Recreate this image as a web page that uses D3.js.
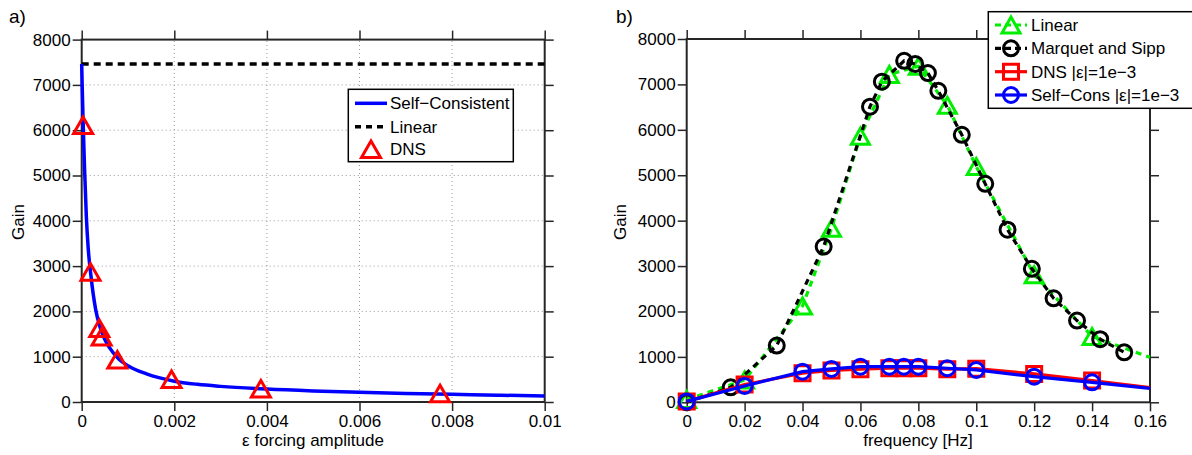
<!DOCTYPE html>
<html><head><meta charset="utf-8">
<script src="https://cdn.jsdelivr.net/npm/d3@7"></script>
<style>
body{margin:0;background:#fff;}
svg{display:block;font-family:"Liberation Sans",Arial,Helvetica,sans-serif;}
</style></head>
<body><svg id="c" width="1192" height="455"></svg>
<script>
// ---------- Panel a data ----------
const aXTicks = [0, 0.002, 0.004, 0.006, 0.008, 0.01];
const aXTickLabels = ["0", "0.002", "0.004", "0.006", "0.008", "0.01"];
const gainTicks = [0, 1000, 2000, 3000, 4000, 5000, 6000, 7000, 8000];
const gainTickLabels = ["0", "1000", "2000", "3000", "4000", "5000", "6000", "7000", "8000"];
const selfConsEps = [0, 0.00001, 0.00003, 0.00006, 0.0001, 0.00014, 0.0002, 0.0003, 0.0004, 0.0005, 0.0006, 0.0008, 0.001, 0.0014, 0.002, 0.0025, 0.003, 0.004, 0.005, 0.006, 0.007, 0.008, 0.009, 0.01];
const selfConsGain = [7460, 7000, 6200, 5200, 4100, 3400, 2780, 2050, 1640, 1380, 1200, 950, 800, 620, 460, 390, 345, 285, 245, 215, 190, 170, 150, 135];
const linearGainA = 7460;
const dnsEps = [0.00003, 0.00019, 0.00038, 0.00043, 0.00077, 0.00194, 0.00387, 0.00774];
const dnsGain = [6110, 2870, 1630, 1440, 930, 500, 290, 185];
const legendA = ["Self\u2212Consistent", "Linear", "DNS"];

// ---------- Panel b data ----------
const bXTicks = [0, 0.02, 0.04, 0.06, 0.08, 0.1, 0.12, 0.14, 0.16];
const bXTickLabels = ["0", "0.02", "0.04", "0.06", "0.08", "0.1", "0.12", "0.14", "0.16"];
const linFreq = [0, 0.02, 0.04, 0.05, 0.06, 0.07, 0.08, 0.09, 0.1, 0.12, 0.14, 0.16];
const linGain = [60, 490, 2120, 3830, 5860, 7220, 7400, 6540, 5190, 2810, 1450, 990];
const msFreq = [0, 0.0152, 0.0311, 0.0473, 0.0633, 0.0674, 0.0751, 0.0789, 0.0833, 0.0869, 0.095, 0.1031, 0.1108, 0.1192, 0.1267, 0.1348, 0.1428, 0.1511];
const msGain = [0, 330, 1250, 3430, 6510, 7060, 7520, 7450, 7250, 6860, 5890, 4810, 3800, 2940, 2290, 1800, 1390, 1100];
const dnsFreq = [0, 0.02, 0.04, 0.05, 0.06, 0.07, 0.075, 0.08, 0.09, 0.1, 0.12, 0.14, 0.16];
const dnsGainB = [20, 390, 640, 700, 730, 750, 750, 750, 730, 740, 625, 478, 322];
const scFreq = [0, 0.02, 0.04, 0.05, 0.06, 0.07, 0.075, 0.08, 0.09, 0.1, 0.12, 0.14, 0.16];
const scGainB = [20, 360, 675, 735, 785, 785, 785, 785, 750, 712, 565, 440, 308];
const legendB = ["Linear", "Marquet and Sipp", "DNS |\u03b5|=1e\u22123", "Self\u2212Cons |\u03b5|=1e\u22123"];

const svg = d3.select("#c");
const AX = "#262626";
const FS = 17;

function triPath(w, h){ return `M0,${-h/2}L${w/2},${h/2}L${-w/2},${h/2}Z`; }

function frame(g, x, y, xt, xtl, yt, ytl, grid){
  const [x0, x1] = x.range(), [y0, y1] = y.range();
  if (grid){
    g.append("g").selectAll("line").data(xt.slice(1, -1)).join("line")
      .attr("x1", d => x(d)).attr("x2", d => x(d)).attr("y1", y0).attr("y2", y1)
      .attr("stroke", "#9a9a9a").attr("stroke-width", 1).attr("stroke-dasharray", "1,3");
    g.append("g").selectAll("line").data(yt.slice(1, -1)).join("line")
      .attr("y1", d => y(d)).attr("y2", d => y(d)).attr("x1", x0).attr("x2", x1)
      .attr("stroke", "#9a9a9a").attr("stroke-width", 1).attr("stroke-dasharray", "1,3");
  }
  const axB = d3.axisBottom(x).tickValues(xt).tickFormat((d,i) => xtl[i]).tickSize(9).tickPadding(4);
  const axT = d3.axisTop(x).tickValues(xt).tickFormat("").tickSize(9);
  const axL = d3.axisLeft(y).tickValues(yt).tickFormat((d,i) => ytl[i]).tickSize(9).tickPadding(2);
  const axR = d3.axisRight(y).tickValues(yt).tickFormat("").tickSize(9);
  const style = s => { s.select(".domain").remove(); s.selectAll("line").attr("stroke", AX).attr("stroke-width", 1.5);
    s.selectAll("text").attr("font-size", FS).attr("fill", "#000").attr("font-family", "Liberation Sans, Arial, sans-serif"); };
  g.append("g").attr("transform", `translate(0,${y0})`).call(axB).call(style);
  g.append("g").attr("transform", `translate(0,${y1})`).call(axT).call(style);
  g.append("g").attr("transform", `translate(${x0},0)`).call(axL).call(style);
  g.append("g").attr("transform", `translate(${x1},0)`).call(axR).call(style);
  g.append("rect").attr("x", x0).attr("y", y1).attr("width", x1 - x0).attr("height", y0 - y1)
    .attr("fill", "none").attr("stroke", AX).attr("stroke-width", 2);
}

// ================= Panel a =================
{
  const x = d3.scaleLinear().domain([0, 0.01]).range([81.7, 544.7]);
  const y = d3.scaleLinear().domain([0, 8000]).range([402, 39.6]);
  const g = svg.append("g");
  frame(g, x, y, aXTicks, aXTickLabels, gainTicks, gainTickLabels, true);
  g.append("defs").append("clipPath").attr("id", "clipA").append("rect")
    .attr("x", 81.7).attr("y", 39.6).attr("width", 463).attr("height", 362.4);
  const pg = g.append("g").attr("clip-path", "url(#clipA)");
  // Linear
  pg.append("line").attr("x1", x(0)).attr("x2", x(0.01)).attr("y1", y(linearGainA)).attr("y2", y(linearGainA))
    .attr("stroke", "#000").attr("stroke-width", 3.5).attr("stroke-dasharray", "7,5");
  // Self-consistent
  const line = d3.line().x(d => x(d[0])).y(d => y(d[1])).curve(d3.curveMonotoneX);
  g.append("path").datum(d3.zip(selfConsEps, selfConsGain)).attr("d", line)
    .attr("fill", "none").attr("stroke", "#0000ff").attr("stroke-width", 3.5);
  // DNS triangles
  g.append("g").selectAll("path").data(d3.zip(dnsEps, dnsGain)).join("path")
    .attr("transform", d => `translate(${x(d[0])},${y(d[1])})`).attr("d", triPath(19, 16.5))
    .attr("fill", "none").attr("stroke", "#ff0000").attr("stroke-width", 3).attr("stroke-linejoin", "miter");
  // Legend
  const lg = g.append("g");
  lg.append("rect").attr("x", 348.3).attr("y", 89.3).attr("width", 165).attr("height", 72.4)
    .attr("fill", "#fff").attr("stroke", "#000").attr("stroke-width", 1.5);
  const rows = [103.3, 126.7, 149.3];
  lg.append("line").attr("x1", 355).attr("x2", 387).attr("y1", rows[0]).attr("y2", rows[0])
    .attr("stroke", "#0000ff").attr("stroke-width", 3.5);
  lg.append("line").attr("x1", 355).attr("x2", 387).attr("y1", rows[1]).attr("y2", rows[1])
    .attr("stroke", "#000").attr("stroke-width", 3.5).attr("stroke-dasharray", "6,5");
  lg.append("path").attr("transform", `translate(371,${rows[2]})`).attr("d", triPath(19, 16.5))
    .attr("fill", "none").attr("stroke", "#ff0000").attr("stroke-width", 3);
  lg.selectAll("text").data(legendA).join("text").attr("x", 390).attr("y", (d,i) => rows[i] + 6)
    .attr("font-size", FS).text(d => d);
  // Labels
  g.append("text").attr("x", 313).attr("y", 446).attr("text-anchor", "middle").attr("font-size", FS).text("\u03b5 forcing amplitude");
  g.append("text").attr("transform", "translate(24,222) rotate(-90)").attr("text-anchor", "middle").attr("font-size", FS).text("Gain");
  g.append("text").attr("x", 9).attr("y", 23).attr("font-size", 19).text("a)");
}

// ================= Panel b =================
{
  const x = d3.scaleLinear().domain([0, 0.16]).range([686.7, 1150]);
  const y = d3.scaleLinear().domain([0, 8000]).range([402.3, 39]);
  const g = svg.append("g");
  frame(g, x, y, bXTicks, bXTickLabels, gainTicks, gainTickLabels, false);
  const line = d3.line().x(d => x(d[0])).y(d => y(d[1]));
  function series(xs, ys, color, dash, marker, markerFilter){
    const data = d3.zip(xs, ys);
    g.append("path").datum(data).attr("d", line).attr("fill", "none").attr("stroke", color)
      .attr("stroke-width", 3.2).attr("stroke-dasharray", dash);
    const md = data.filter(markerFilter);
    const sel = g.append("g").selectAll("path").data(md).join("path")
      .attr("transform", d => `translate(${x(d[0])},${y(d[1])})`)
      .attr("fill", "none").attr("stroke", color).attr("stroke-width", 3);
    if (marker === "tri") sel.attr("d", triPath(18, 16));
    else if (marker === "sq") sel.attr("d", "M-7.5,-7.5H7.5V7.5H-7.5Z");
    else sel.attr("d", d3.arc()({innerRadius:0, outerRadius:7.5, startAngle:0, endAngle:2*Math.PI}));
  }
  series(linFreq, linGain, "#00ee00", "6,5", "tri", d => d[0] < 0.155);
  series(msFreq, msGain, "#000000", "6,5", "circ", d => true);
  series(dnsFreq, dnsGainB, "#ff0000", null, "sq", d => d[0] < 0.155);
  series(scFreq, scGainB, "#0000ff", null, "circ", d => d[0] < 0.155);
  // Legend
  const lg = g.append("g");
  lg.append("rect").attr("x", 988.3).attr("y", 11.7).attr("width", 215).attr("height", 96.6)
    .attr("fill", "#fff").attr("stroke", "#000").attr("stroke-width", 1.5);
  const rows = [25, 48.3, 71.7, 95];
  const cols = ["#00ee00", "#000000", "#ff0000", "#0000ff"];
  const dashes = ["6,4", "6,4", null, null];
  const marks = ["tri", "circ", "sq", "circ"];
  rows.forEach((ry, i) => {
    lg.append("line").attr("x1", 995).attr("x2", 1027).attr("y1", ry).attr("y2", ry)
      .attr("stroke", cols[i]).attr("stroke-width", 3.2).attr("stroke-dasharray", dashes[i]);
    const p = lg.append("path").attr("transform", `translate(1011,${ry})`).attr("fill", "none")
      .attr("stroke", cols[i]).attr("stroke-width", 3);
    if (marks[i] === "tri") p.attr("d", triPath(18, 16));
    else if (marks[i] === "sq") p.attr("d", "M-7.5,-7.5H7.5V7.5H-7.5Z");
    else p.attr("d", d3.arc()({innerRadius:0, outerRadius:7.5, startAngle:0, endAngle:2*Math.PI}));
  });
  lg.selectAll("text").data(legendB).join("text").attr("x", 1031).attr("y", (d,i) => rows[i] + 6)
    .attr("font-size", FS).text(d => d);
  g.append("text").attr("x", 918).attr("y", 446).attr("text-anchor", "middle").attr("font-size", FS).text("frequency [Hz]");
  g.append("text").attr("transform", "translate(626,222) rotate(-90)").attr("text-anchor", "middle").attr("font-size", FS).text("Gain");
  g.append("text").attr("x", 616).attr("y", 23).attr("font-size", 19).text("b)");
}
</script></body></html>
